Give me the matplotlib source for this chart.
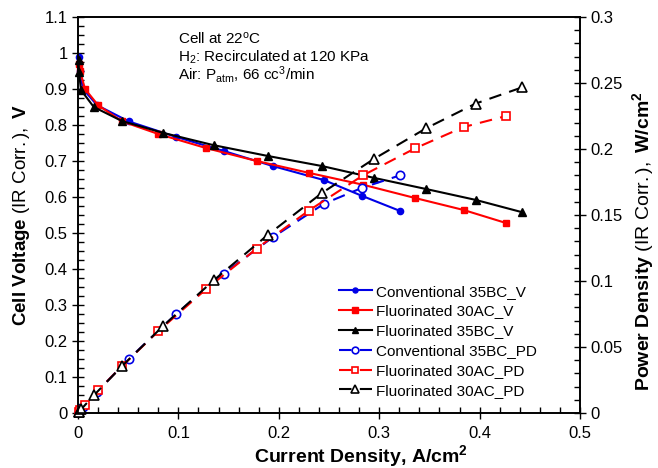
import matplotlib
matplotlib.use("Agg")
import matplotlib.pyplot as plt
from matplotlib.ticker import MultipleLocator, FuncFormatter

plt.rcParams['font.family'] = ['Liberation Sans', 'DejaVu Sans']
plt.rcParams['mathtext.fontset'] = 'custom'
plt.rcParams['mathtext.rm'] = 'Liberation Sans'
plt.rcParams['mathtext.it'] = 'Liberation Sans:italic'
plt.rcParams['mathtext.bf'] = 'Liberation Sans:bold'

# ============================================
# DATA
# ============================================

# Conventional 35BC
conv_i  = [0.0005, 0.002, 0.005, 0.019, 0.0505, 0.0976, 0.145, 0.194, 0.245, 0.283, 0.321]
conv_v  = [0.99, 0.95, 0.90, 0.855, 0.81, 0.767, 0.728, 0.686, 0.647, 0.603, 0.561]
conv_pd = [0.0005, 0.0019, 0.0045, 0.0162, 0.0409, 0.0749, 0.1056, 0.1331, 0.1585, 0.1706, 0.1801]

# Fluorinated 30AC
f30_i  = [0.0005, 0.002, 0.007, 0.020, 0.044, 0.080, 0.1275, 0.178, 0.230, 0.284, 0.336, 0.384, 0.426]
f30_v  = [0.97, 0.95, 0.90, 0.855, 0.81, 0.775, 0.736, 0.700, 0.667, 0.634, 0.597, 0.564, 0.528]
f30_pd = [0.0005, 0.0019, 0.0063, 0.0171, 0.0356, 0.0620, 0.0938, 0.1246, 0.1534, 0.1801, 0.2006, 0.2166, 0.2249]

# Fluorinated 35BC
f35_i  = [0.0005, 0.001, 0.003, 0.0157, 0.0438, 0.085, 0.135, 0.189, 0.243, 0.295, 0.347, 0.396, 0.442]
f35_v  = [0.98, 0.947, 0.897, 0.85, 0.811, 0.778, 0.744, 0.714, 0.686, 0.653, 0.622, 0.592, 0.558]
f35_pd = [0.0005, 0.0009, 0.0027, 0.0133, 0.0355, 0.0661, 0.1004, 0.1349, 0.1667, 0.1926, 0.2158, 0.2344, 0.2466]

labels_v  = ["Conventional 35BC_V", "Fluorinated 30AC_V", "Fluorinated 35BC_V"]
labels_pd = ["Conventional 35BC_PD", "Fluorinated 30AC_PD", "Fluorinated 30AC_PD"]

BLUE = '#0000e6'
RED = '#ff0000'
BLACK = '#000000'

# ============================================
# PLOT
# ============================================
fig = plt.figure(figsize=(6.58, 4.68), dpi=100)
ax = fig.add_axes([78/658, 1-413/468, (580-78)/658, (413-17)/468])
ax2 = ax.twinx()

dash = (0, (6, 4))
h = []
h += ax.plot(conv_i, conv_v, '-', color=BLUE, marker='o', ms=4.5, lw=1.5, clip_on=False, label=labels_v[0])
h += ax.plot(f30_i, f30_v, '-', color=RED, marker='s', ms=5, lw=1.5, clip_on=False, label=labels_v[1])
h += ax.plot(f35_i, f35_v, '-', color=BLACK, marker='^', ms=5.5, lw=1.5, clip_on=False, label=labels_v[2])

h += ax2.plot(conv_i, conv_pd, color=BLUE, ls=dash, marker='o', ms=6, mfc='white', mew=1.2, lw=1.5,
              clip_on=False, label=labels_pd[0])
h += ax2.plot(f30_i, f30_pd, color=RED, ls=dash, marker='s', ms=6, mfc='white', mew=1.2, lw=1.5,
              clip_on=False, label=labels_pd[1])
h += ax2.plot(f35_i, f35_pd, color=BLACK, ls=dash, marker='^', ms=6.5, mfc='white', mew=1.2, lw=1.5,
              clip_on=False, label=labels_pd[2])

ax.set_xlim(0, 0.5)
ax.set_ylim(0, 1.1)
ax2.set_ylim(0, 0.3)

fmt = FuncFormatter(lambda v, p: '%g' % round(v, 3))
ax.xaxis.set_major_locator(MultipleLocator(0.1))
ax.xaxis.set_minor_locator(MultipleLocator(0.02))
ax.yaxis.set_major_locator(MultipleLocator(0.1))
ax.yaxis.set_minor_locator(MultipleLocator(0.025))
ax2.yaxis.set_major_locator(MultipleLocator(0.05))
ax2.yaxis.set_minor_locator(MultipleLocator(0.01))
ax.xaxis.set_major_formatter(fmt)
ax.yaxis.set_major_formatter(fmt)
ax2.yaxis.set_major_formatter(fmt)

ax.tick_params(axis='both', which='major', direction='inout', length=8, width=1, labelsize=12)
ax.tick_params(axis='both', which='minor', direction='in', length=4, width=1)
ax.tick_params(axis='y', right=False)
ax.tick_params(axis='x', top=False, pad=5)
ax2.tick_params(axis='y', which='major', direction='inout', length=8, width=1, labelsize=12)
ax2.tick_params(axis='y', which='minor', direction='in', length=4, width=1)

for a in (ax, ax2):
    for s in a.spines.values():
        s.set_linewidth(1.2)

# axis titles
fig.text(361/658, 1-462/468, r'Current Density, A/cm$^\mathbf{2}$', fontsize=14,
         fontweight='bold', ha='center', va='baseline')
ax.set_ylabel(r'$\mathbf{Cell\ Voltage}\ \mathrm{(IR\ Corr.)},\ \mathbf{V}$', fontsize=13.5)
ax2.set_ylabel(r'$\mathbf{Power\ Density}\ \mathrm{(IR\ Corr.)},\ \mathbf{W/cm^2}$', fontsize=14)
ax.yaxis.set_label_coords((32-78)/502, 0.5)
ax2.yaxis.set_label_coords((630-78)/502, (413-241)/396)

ax.text(0.1, 1.027, r'Cell at 22$^{\mathrm{o}}$C', fontsize=11)
ax.text(0.1, 0.977, r'H$_2$: Recirculated at 120 KPa', fontsize=11)
ax.text(0.1, 0.927, r'Air: P$_{\mathrm{atm}}$, 66 cc$^3$/min', fontsize=11)

ax2.legend(handles=h, loc='upper left', bbox_to_anchor=(331/658, 1-277/468),
           bbox_transform=fig.transFigure, frameon=False, fontsize=11,
           handlelength=2.2, handletextpad=0.25, labelspacing=0.38, borderpad=0,
           markerscale=0.8)

fig.savefig("out.png", dpi=100)
